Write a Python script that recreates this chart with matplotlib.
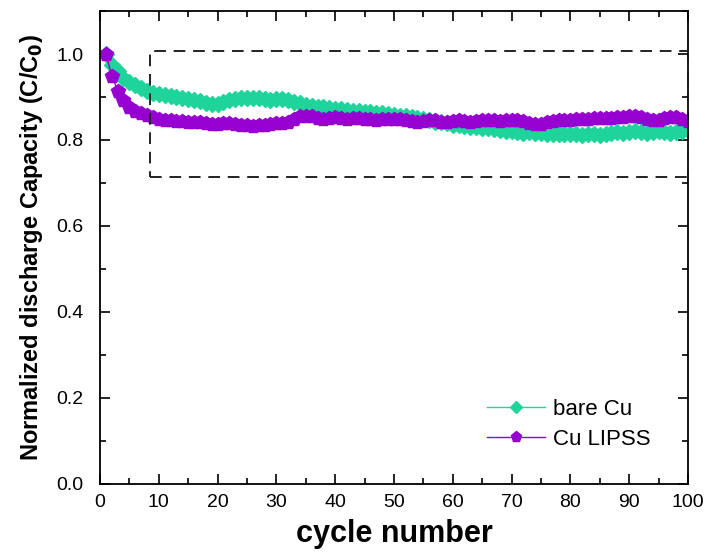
import numpy as np
import matplotlib
matplotlib.use("Agg")
import matplotlib.pyplot as plt
from matplotlib.patches import Rectangle
from matplotlib.ticker import MultipleLocator

plt.rcParams['font.family'] = ['Liberation Sans', 'DejaVu Sans']

cycles = list(range(1, 101))

bare_cu = [
    1.000, 0.975, 0.960, 0.945, 0.935, 0.927, 0.920, 0.915, 0.910, 0.907,
    0.905, 0.903, 0.900, 0.898, 0.896, 0.893, 0.890, 0.887, 0.884, 0.884,
    0.888, 0.893, 0.896, 0.897, 0.897, 0.898, 0.897, 0.895, 0.894, 0.896,
    0.895, 0.892, 0.888, 0.885, 0.882, 0.879, 0.877, 0.876, 0.874, 0.872,
    0.871, 0.869, 0.868, 0.867, 0.866, 0.864, 0.863, 0.862, 0.861, 0.858,
    0.856, 0.855, 0.853, 0.851, 0.849, 0.846, 0.843, 0.841, 0.839, 0.836,
    0.834, 0.832, 0.830, 0.831, 0.829, 0.828, 0.826, 0.824, 0.822, 0.820,
    0.818, 0.817, 0.818, 0.816, 0.817, 0.815, 0.814, 0.815, 0.813, 0.814,
    0.813, 0.812, 0.813, 0.813, 0.812, 0.814, 0.816, 0.818, 0.817, 0.819,
    0.820, 0.818, 0.817, 0.818, 0.820, 0.818, 0.817, 0.819, 0.820, 0.823,
]

cu_lipss = [
    1.000, 0.950, 0.915, 0.893, 0.877, 0.868, 0.862, 0.858, 0.853, 0.849,
    0.847, 0.846, 0.845, 0.845, 0.843, 0.842, 0.842, 0.840, 0.838, 0.838,
    0.839, 0.840, 0.838, 0.836, 0.834, 0.833, 0.834, 0.836, 0.838, 0.839,
    0.840, 0.843, 0.849, 0.855, 0.856, 0.855, 0.852, 0.850, 0.852, 0.853,
    0.852, 0.850, 0.851, 0.852, 0.849, 0.848, 0.847, 0.848, 0.848, 0.848,
    0.849, 0.846, 0.845, 0.843, 0.845, 0.847, 0.846, 0.842, 0.843, 0.845,
    0.846, 0.845, 0.843, 0.844, 0.846, 0.847, 0.846, 0.845, 0.846, 0.847,
    0.846, 0.844, 0.840, 0.838, 0.838, 0.843, 0.845, 0.846, 0.846, 0.847,
    0.848, 0.849, 0.850, 0.851, 0.852, 0.851, 0.852, 0.853, 0.854, 0.855,
    0.855, 0.853, 0.849, 0.846, 0.847, 0.851, 0.854, 0.853, 0.849, 0.845,
]

# zoom box drawn on the original figure
box_x = (8.5, 100)
box_y = (0.715, 1.007)

green = '#1fd49a'
purple = '#9600d0'

fig = plt.figure(figsize=(7.07, 5.53), dpi=100)
ax = fig.add_axes([0.1414, 0.1248, 0.8316, 0.8553])

ax.plot(cycles, bare_cu, color=green, lw=1, marker='D', ms=8,
        mec=green, mfc=green, label='bare Cu')
ax.plot(cycles, cu_lipss, color=purple, lw=1, marker='p', ms=10,
        mec=purple, mfc=purple, label='Cu LIPSS')

ax.add_patch(Rectangle((box_x[0], box_y[0]), box_x[1] - box_x[0], box_y[1] - box_y[0],
                       fill=False, ls=(0, (6, 4)), lw=1.4, ec='#222222', zorder=5,
                       clip_on=False))

ax.set_xlim(0, 100)
ax.set_ylim(0, 1.1)
ax.xaxis.set_major_locator(MultipleLocator(10))
ax.xaxis.set_minor_locator(MultipleLocator(5))
ax.yaxis.set_major_locator(MultipleLocator(0.2))
ax.yaxis.set_minor_locator(MultipleLocator(0.1))
ax.tick_params(which='both', direction='in', top=True, right=True,
               labeltop=False, labelright=False, width=1.2, labelsize=14)
ax.tick_params(which='major', length=7)
ax.tick_params(which='minor', length=4)
ax.tick_params(axis='y', pad=12)
ax.tick_params(axis='x', pad=7)
ax.set_yticks([0, 0.2, 0.4, 0.6, 0.8, 1.0])
ax.set_yticklabels(['0.0', '0.2', '0.4', '0.6', '0.8', '1.0'])
for s in ax.spines.values():
    s.set_linewidth(1.3)

ax.set_xlabel('cycle number', fontsize=22, fontweight='bold', labelpad=6)
ax.set_ylabel('Normalized discharge Capacity (C/C$_\\mathbf{0}$)', fontsize=17,
              fontweight='bold', labelpad=8)

ax.legend(loc='lower right', bbox_to_anchor=(0.97, 0.03), frameon=False,
          fontsize=16, handlelength=2.6, handletextpad=0.35, labelspacing=0.4,
          markerscale=0.8)

fig.savefig('out.png', dpi=100)
